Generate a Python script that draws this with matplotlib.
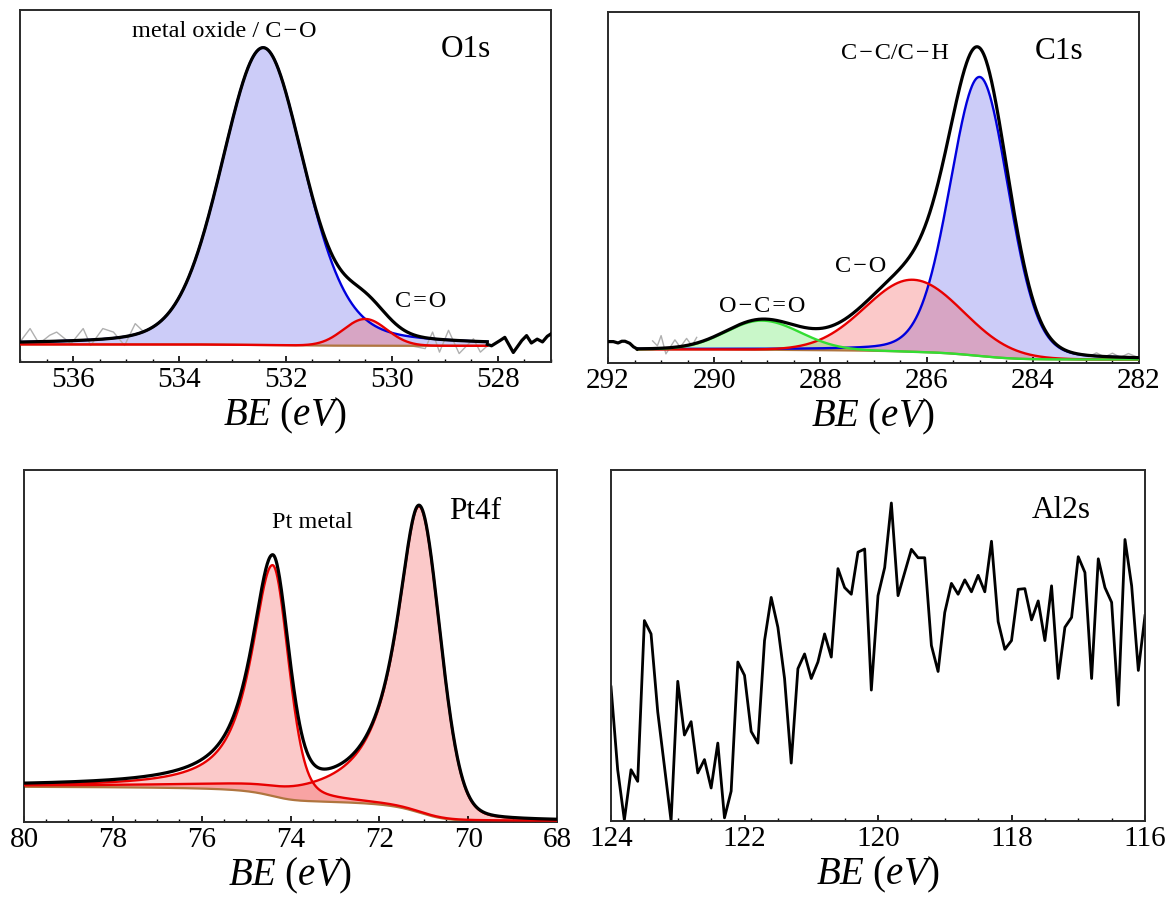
import numpy as np
import matplotlib
matplotlib.use('Agg')
import matplotlib.pyplot as plt
from matplotlib.ticker import MultipleLocator

plt.rcParams['font.family'] = ['Liberation Serif', 'DejaVu Serif']
plt.rcParams['mathtext.fontset'] = 'custom'
plt.rcParams['mathtext.rm'] = 'Liberation Serif'
plt.rcParams['mathtext.it'] = 'Liberation Serif:italic'

# ---- O1s : fitted peaks (center, height, half widths, lorentz fraction) ----
o1s_center = [532.42, 530.50]
o1s_height = [84.5, 7.6]
o1s_hw_hi = [0.93, 0.48]
o1s_hw_lo = [0.92, 0.48]
o1s_eta_hi = [0.2, 0.0]
o1s_eta_lo = [0.3, 0.0]
o1s_bg = [5.0, 4.6]          # high-BE end, low-BE end
o1s_fit_range = [537.0, 528.2]
o1s_raw_left_x = [537.0, 536.81, 536.64, 536.44, 536.31, 536.04, 535.81, 535.67,
                  535.44, 535.24, 535.03, 534.83, 534.70]
o1s_raw_left_y = [5.7, 9.5, 5.2, 7.6, 8.5, 5.2, 9.5, 4.7, 9.5, 8.5, 4.7, 10.9, 9.0]
o1s_raw_right_x = [529.67, 529.37, 529.23, 529.10, 528.93, 528.73, 528.46, 528.33, 528.19]
o1s_raw_right_y = [4.7, 3.8, 8.5, 2.8, 9.0, 2.4, 6.6, 2.8, 4.7]
o1s_tail_x = [528.2, 528.12, 527.96, 527.87, 527.71, 527.55, 527.46, 527.37, 527.26,
              527.16, 527.07, 527.0]
o1s_tail_y = [5.0, 4.6, 6.1, 7.0, 2.7, 6.1, 7.5, 5.4, 6.5, 5.7, 7.3, 8.0]

# ---- C1s ----
c1s_center = [285.00, 286.26, 289.10]
c1s_height = [79.5, 20.5, 8.3]
c1s_hw_hi = [0.66, 1.05, 0.80]
c1s_hw_lo = [0.64, 1.10, 0.85]
c1s_eta_hi = [0.15, 0.0, 0.0]
c1s_eta_lo = [0.15, 0.0, 0.0]
c1s_bg = [3.9, 1.0]
c1s_fit_range = [291.45, 282.0]
c1s_lead_x = [292.0, 291.90, 291.81, 291.74, 291.68, 291.59, 291.52, 291.45]
c1s_lead_y = [6.1, 6.1, 5.7, 6.2, 6.2, 5.6, 4.6, 4.0]
c1s_raw_left_x = [291.16, 291.07, 291.0, 290.91, 290.74, 290.64, 290.52, 290.42, 290.33]
c1s_raw_left_y = [6.3, 4.9, 7.8, 2.6, 6.6, 4.5, 7.0, 4.9, 7.3]
c1s_raw_right_x = [283.1, 282.95, 282.8, 282.65, 282.5, 282.35, 282.2, 282.05]
c1s_raw_right_y = [2.6, 1.8, 2.9, 1.7, 2.8, 1.6, 2.7, 1.8]

# ---- Pt4f ----
pt_center = [74.40, 71.10]
pt_height = [65.6, 87.0]
pt_hw_hi = [0.58, 0.62]
pt_hw_lo = [0.42, 0.55]
pt_eta_hi = [0.9, 1.0]
pt_eta_lo = [0.3, 0.15]
pt_bg = [10.0, 0.3]
pt_fit_range = [80.0, 68.0]

# ---- Al2s raw counts, 124.0 -> 116.0 eV, step 0.1 ----
al_start, al_stop = 124.0, 116.0
al_counts = [38.2, 14.6, 0.3, 14.6, 11.3, 57.1, 53.3, 31.1, 15.6, 0.0,
             39.8, 24.5, 28.3, 13.7, 17.5, 9.4, 22.2, 0.9, 8.5, 45.3,
             41.5, 25.5, 22.2, 51.4, 63.7, 55.2, 40.6, 16.5, 43.4, 47.6,
             40.6, 45.3, 53.3, 46.7, 71.9, 66.5, 64.6, 76.6, 77.5, 37.3,
             64.2, 72.2, 90.6, 64.2, 70.8, 77.4, 75.0, 75.0, 50.0, 42.6,
             59.4, 67.7, 64.6, 68.7, 65.3, 70.0, 65.3, 79.7, 56.8, 48.9,
             51.4, 66.0, 66.2, 57.3, 62.7, 51.4, 67.0, 40.6, 55.2, 58.0,
             75.3, 70.8, 40.6, 74.7, 66.5, 62.3, 33.0, 80.2, 67.0, 42.9, 58.5]

BLUE = '#0000dd'
RED = '#e80000'
GREEN = '#33dd33'
BROWN = '#b0753f'
FILL_BLUE = (0.35, 0.35, 0.92, 0.30)
FILL_RED = (0.95, 0.30, 0.30, 0.30)
FILL_GREEN = (0.30, 0.90, 0.30, 0.30)

TICK_FS = 21
LABEL_FS = 28
NAME_FS = 22.5
NOTE_FS = 17.5
HS = '\u200a'              # hair space
DASH = HS + '\u2212' + HS  # long dash as in the original labels


def peak(x, c, h, hw_hi, hw_lo, eta_hi, eta_lo):
    hw = np.where(x > c, hw_hi, hw_lo)
    eta = np.where(x > c, eta_hi, eta_lo)
    d = (x - c) / hw
    return h * (eta / (1 + d ** 2) + (1 - eta) * np.exp(-np.log(2) * d ** 2))


def fit_curves(rng, centers, heights, hw_hi, hw_lo, eta_hi, eta_lo, bg):
    x = np.linspace(rng[0], rng[1], 1200)
    comps = [peak(x, *p) for p in zip(centers, heights, hw_hi, hw_lo, eta_hi, eta_lo)]
    total = np.sum(comps, axis=0)
    # Shirley-type background: cumulative area from the low-BE side
    cum = np.cumsum(total[::-1])[::-1]
    back = bg[1] + (bg[0] - bg[1]) * cum / cum[0]
    return x, comps, back


def style_axis(ax, xlim, name, name_xy):
    ax.set_xlim(*xlim)
    ax.set_ylim(0, 100)
    ax.set_yticks([])
    ax.xaxis.set_major_locator(MultipleLocator(2))
    ax.xaxis.set_minor_locator(MultipleLocator(0.5))
    ax.tick_params(axis='x', which='major', direction='in', length=4, width=1.2,
                   labelsize=TICK_FS, pad=3)
    ax.tick_params(axis='x', which='minor', direction='in', length=2.2, width=1.0)
    for s in ax.spines.values():
        s.set_linewidth(1.4)
        s.set_color('#2a2a2a')
    ax.set_xlabel(r'$BE\ (eV)$', fontsize=LABEL_FS, labelpad=2)
    ax.text(name_xy[0], name_xy[1], name, fontsize=NAME_FS, ha='center', va='center')


def draw_fit(ax, x, comps, back, colors, fills):
    for comp, fc in zip(comps, fills):
        ax.fill_between(x, back, back + comp, color=fc, lw=0, zorder=1)
    ax.plot(x, back, color=BROWN, lw=1.6, zorder=2)
    for comp, col in zip(comps, colors):
        ax.plot(x, back + comp, color=col, lw=1.7, zorder=3)
    ax.plot(x, back + np.sum(comps, axis=0), color='black', lw=2.3, zorder=4)


fig = plt.figure(figsize=(11.71, 9.03), dpi=100)

# O1s
ax1 = fig.add_axes([0.01708, 0.59801, 0.45346, 0.38981])
x, comps, back = fit_curves(o1s_fit_range, o1s_center, o1s_height, o1s_hw_hi,
                            o1s_hw_lo, o1s_eta_hi, o1s_eta_lo, o1s_bg)
ax1.plot(o1s_raw_left_x, o1s_raw_left_y, color='#b0b0b0', lw=1.0, zorder=1.5)
ax1.plot(o1s_raw_right_x, o1s_raw_right_y, color='#b0b0b0', lw=1.0, zorder=1.5)
draw_fit(ax1, x, comps, back, [BLUE, RED], [FILL_BLUE, FILL_RED])
ax1.plot(o1s_tail_x, o1s_tail_y, color='black', lw=2.3, zorder=4)
style_axis(ax1, (537, 527), 'O1s', (528.6, 89))
ax1.text(533.15, 94.3, 'metal oxide / C' + DASH + 'O', fontsize=NOTE_FS,
         ha='center', va='center')
ax1.text(529.45, 17.5, 'C' + HS + '=' + HS + 'O', fontsize=NOTE_FS, ha='center', va='center')

# C1s
ax2 = fig.add_axes([0.51922, 0.59690, 0.45346, 0.38870])
x, comps, back = fit_curves(c1s_fit_range, c1s_center, c1s_height, c1s_hw_hi,
                            c1s_hw_lo, c1s_eta_hi, c1s_eta_lo, c1s_bg)
ax2.plot(c1s_raw_left_x, c1s_raw_left_y, color='#b0b0b0', lw=1.0, zorder=1.5)
ax2.plot(c1s_raw_right_x, c1s_raw_right_y, color='#b0b0b0', lw=1.0, zorder=1.5)
draw_fit(ax2, x, comps, back, [BLUE, RED, GREEN], [FILL_BLUE, FILL_RED, FILL_GREEN])
ax2.plot(c1s_lead_x, c1s_lead_y, color='black', lw=2.3, zorder=4)
style_axis(ax2, (292, 282), 'C1s', (283.5, 89))
ax2.text(286.6, 88.4, 'C' + DASH + 'C/C' + DASH + 'H', fontsize=NOTE_FS,
         ha='center', va='center')
ax2.text(287.25, 27.7, 'C' + DASH + 'O', fontsize=NOTE_FS, ha='center', va='center')
ax2.text(289.1, 16.5, 'O' + DASH + 'C' + HS + '=' + HS + 'O', fontsize=NOTE_FS,
         ha='center', va='center')

# Pt4f
ax3 = fig.add_axes([0.02050, 0.08859, 0.45517, 0.38981])
x, comps, back = fit_curves(pt_fit_range, pt_center, pt_height, pt_hw_hi,
                            pt_hw_lo, pt_eta_hi, pt_eta_lo, pt_bg)
draw_fit(ax3, x, comps, back, [RED, RED], [FILL_RED, FILL_RED])
style_axis(ax3, (80, 68), 'Pt4f', (69.85, 88.5))
ax3.text(73.5, 85.4, 'Pt metal', fontsize=NOTE_FS, ha='center', va='center')

# Al2s
ax4 = fig.add_axes([0.52178, 0.08970, 0.45602, 0.38870])
al_be = np.linspace(al_start, al_stop, len(al_counts))
ax4.plot(al_be, al_counts, color='black', lw=2.0)
style_axis(ax4, (124, 116), 'Al2s', (117.25, 88.7))

fig.savefig('out.png', dpi=100)
